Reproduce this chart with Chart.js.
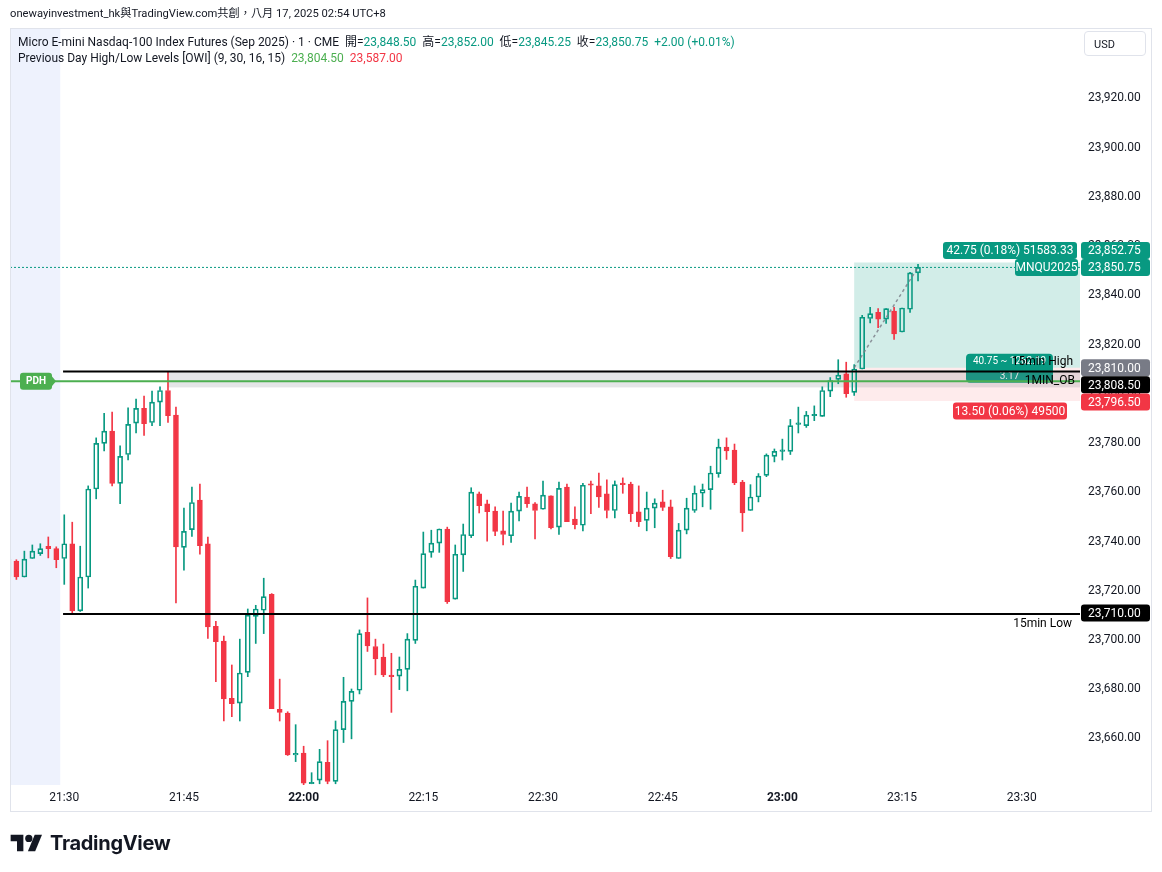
<!DOCTYPE html>
<html>
<head>
<meta charset="utf-8">
<script src="https://cdn.jsdelivr.net/npm/chart.js@4/dist/chart.umd.min.js"></script>
<style>
body{margin:0;background:#fff;width:1162px;height:872px;overflow:hidden;position:relative;font-family:Roboto,"Noto Sans CJK TC",sans-serif;color:#131722}
#c{position:absolute;left:0;top:0}
.t{position:absolute;white-space:nowrap;font-size:12px;line-height:16px}
.g{color:#089981}
#usd{position:absolute;left:1084px;top:31px;width:62px;height:25px;border:1px solid #e0e3eb;border-radius:4px;font-size:11px;line-height:25px;padding-left:9px;box-sizing:border-box}
#logo{position:absolute;left:10px;top:831px;display:flex;align-items:center;gap:6px;font-family:Inter,sans-serif;font-weight:700;font-size:20px;letter-spacing:-0.3px}
</style>
</head>
<body>
<canvas id="c" width="1162" height="872"></canvas>
<div class="t" style="left:10px;top:6px;font-size:11.2px">onewayinvestment_hk與TradingView.com共創，八月 17, 2025 02:54 UTC+8</div>
<div class="t" style="left:18px;top:34px">Micro E-mini Nasdaq-100 Index Futures (Sep 2025) · 1 · CME &nbsp;開=<span class="g">23,848.50</span> &nbsp;高=<span class="g">23,852.00</span> &nbsp;低=<span class="g">23,845.25</span> &nbsp;收=<span class="g">23,850.75</span> &nbsp;<span class="g">+2.00 (+0.01%)</span></div>
<div class="t" style="left:18px;top:50px">Previous Day High/Low Levels [OWI] (9, 30, 16, 15) &nbsp;<span style="color:#4caf50">23,804.50</span> &nbsp;<span style="color:#f23645">23,587.00</span></div>
<div id="usd">USD</div>
<div id="logo"><svg width="34" height="20" viewBox="0 0 36 22"><path d="M14 20H7V9H0V2h14z" fill="#131722"/><circle cx="20" cy="6" r="4" fill="#131722"/><path d="M27 20h-8l7.5-18h8z" fill="#131722"/></svg>TradingView</div>
<script>
const times = ["21:23","21:24","21:25","21:26","21:27","21:28","21:29","21:30","21:31","21:32","21:33","21:34","21:35","21:36","21:37","21:38","21:39","21:40","21:41","21:42","21:43","21:44","21:45","21:46","21:47","21:48","21:49","21:50","21:51","21:52","21:53","21:54","21:55","21:56","21:57","21:58","21:59",
"22:00","22:01","22:02","22:03","22:04","22:05","22:06","22:07","22:08","22:09","22:10","22:11","22:12","22:13","22:14","22:15","22:16","22:17","22:18","22:19","22:20","22:21","22:22","22:23","22:24","22:25","22:26","22:27","22:28","22:29","22:30","22:31","22:32","22:33","22:34","22:35","22:36","22:37","22:38","22:39","22:40","22:41","22:42","22:43","22:44","22:45","22:46","22:47","22:48","22:49","22:50","22:51","22:52","22:53","22:54","22:55","22:56","22:57","22:58","22:59",
"23:00","23:01","23:02","23:03","23:04","23:05","23:06","23:07","23:08","23:09","23:10","23:11","23:12","23:13","23:14","23:15","23:16","23:17"];
const opens = [23725.25,23731.5,23725,23732.5,23734.5,23737.5,23736.5,23732.5,23738.5,23711.25,23725,23760.75,23779.25,23784.25,23763,23774.75,23787.5,23793.5,23787.75,23796,23800.75,23790.75,23737,23744.25,23756.25,23738.5,23705,23699,23675.75,23673.75,23686.25,23709,23711.5,23718,23671.25,23669.75,23652.75,
23653.5,23641,23642.5,23649.75,23642,23663,23674.5,23679,23702.5,23696.75,23692.5,23684.75,23684.75,23687.5,23699.25,23720.5,23735,23738.75,23744.5,23716,23734,23741.75,23758.75,23754.75,23751.75,23743.75,23741.75,23751.75,23757.5,23754.75,23752.5,23758,23745.25,23761.5,23748.5,23746,23762.5,23762,23758.75,23752,23762.75,23762.75,23751.5,23748,23753,23755.5,23753.5,23732.5,23744,23752,23759,23760.5,23767,23777.75,23776.5,23763.5,23752,23757.5,23766.25,23774,
23776,23776,23787,23786.5,23790.5,23790.25,23800.5,23805.25,23807.5,23800,23809.5,23830,23832.5,23829.75,23833,23824.5,23833.75,23848.5];
const highs = [23733,23732,23735.5,23738,23738.5,23741.25,23737.25,23750.25,23747.25,23737.5,23762,23781.5,23791.5,23792,23778.25,23793.75,23797.25,23798.5,23800.5,23802.25,23808.5,23794,23753,23761.5,23762.75,23741.25,23707,23701,23689.25,23699.75,23712,23713.5,23724.5,23718.25,23683.5,23670.25,23665,
23656.25,23645.5,23655,23658.5,23666.5,23684.25,23679.5,23703.5,23716.5,23699.75,23697.75,23694,23692.5,23702,23723.75,23743.25,23744,23744.5,23745.25,23738,23746.5,23761.25,23759.5,23756.25,23753.5,23751.75,23755,23759.5,23761.5,23755.25,23764,23758,23763.5,23762.75,23753.5,23763,23764,23767.25,23764.5,23764,23765.25,23763.5,23762,23759.5,23756.75,23760.25,23756.25,23746.75,23757,23762,23762.75,23770,23781,23781.5,23779,23764.25,23762.5,23767,23775,23777,
23781,23789,23794,23792.25,23794.5,23802.25,23806,23813.25,23812.25,23811.25,23831.25,23834.5,23834,23834,23834.5,23834.25,23848.75,23852];
const lows = [23724.5,23724,23725,23732.5,23733.75,23732.75,23728.75,23722,23709.75,23711,23720.5,23756.75,23776.25,23762,23754.75,23772.5,23783.5,23782.5,23786.5,23786.5,23787.75,23714.5,23727.75,23741.5,23734.25,23700,23682.5,23666.5,23668.25,23666.5,23684.5,23698,23702,23671.5,23666.5,23652.5,23650,
23640.5,23641,23641,23641,23641,23657.75,23659.25,23677.5,23694.75,23685.25,23684.5,23670,23679.25,23678.75,23698,23720.5,23733,23735,23714.25,23716,23727.25,23741,23751,23739.5,23741.75,23738,23739,23747.75,23753.25,23740.5,23752.5,23744.5,23742.25,23747.5,23744.5,23743.75,23750.75,23753.25,23749,23749,23759,23747.5,23745.5,23743.75,23745,23752,23732.5,23732.5,23742.5,23751.25,23753.5,23752.5,23765.5,23772.75,23762.5,23743.5,23752,23755.5,23765.75,23771.75,
23772.5,23774.75,23783.5,23785.75,23788.5,23790.25,23798.25,23803.5,23798,23798.75,23809.5,23828.25,23826.25,23828,23821.5,23824.5,23832.5,23845.25];
const closes = [23732.25,23725,23732.25,23735.5,23736.5,23736.5,23732,23738.5,23711.25,23725,23760.75,23779.25,23784.25,23763,23774,23787,23793.5,23787.25,23796,23800.75,23790.5,23737.25,23743.5,23755.25,23737.75,23704.75,23698.75,23675.5,23673.5,23686,23709.5,23712,23717,23671.5,23670,23652.75,23653.25,
23641.25,23641.5,23650,23642,23663,23674.5,23678.5,23702,23697,23691.75,23685.25,23684.5,23687.5,23699.75,23721.25,23734.5,23738.75,23744.5,23715,23734.25,23742.25,23759.5,23754,23751.5,23743.5,23742.25,23751.75,23757.75,23754.75,23752,23758.25,23745,23761,23747.5,23746.25,23762.25,23762.25,23757.5,23752,23762.5,23762.5,23750.75,23747.5,23753,23755,23753.25,23733.25,23744,23753,23759,23760.5,23767.25,23777.75,23776.25,23763.25,23751,23757.5,23766,23774.5,23776,
23776.25,23786.5,23787.25,23790.75,23790.75,23800.75,23804.75,23807,23799.5,23809.5,23830.5,23832,23829.75,23834,23823.75,23834.25,23848.5,23850.75];

const xTickLabels = ["21:30","21:45","22:00","22:15","22:30","22:45","23:00","23:15","23:30"];
const priceTicks = [23660,23680,23700,23720,23740,23760,23780,23800,23820,23840,23860,23880,23900,23920];

// levels drawn on the chart
const pdhLevel = 23804.5;
const high15 = 23808.5;
const low15 = 23710;
const obLow = 23802;
const lastPrice = 23850.75;
const entryPrice = 23810, targetPrice = 23852.75, stopPrice = 23796.5;
const entryTime = "23:09", obTime = "21:43", lastTime = "23:17";

const toMin = s => { const [h,m] = s.split(":").map(Number); return h*60+m-(21*60+30); };
const xMin = -6.8, xMax = 127.3, yMin = 23640.5, yMax = 23948;
const TEAL = '#089981', RED = '#f23645', GREEN = '#4caf50';
const FONT = 'Roboto, "Noto Sans", sans-serif';

const tv = times.map(toMin);
const up = closes.map((c,i)=>c>=opens[i]);
const col = up.map(u=>u?TEAL:RED);
const fmt = v => v.toLocaleString('en-US',{minimumFractionDigits:2,maximumFractionDigits:2});
const flat = (y,x0,x1)=>[{x:x0,y},{x:x1,y}];

const overlay = {
  id:'overlay',
  beforeDatasetsDraw(chart){
    const {ctx, chartArea:a, scales:{x,y}} = chart;
    const rect=(t0,t1,p0,p1,c)=>{const X0=x.getPixelForValue(t0),X1=x.getPixelForValue(t1),Y0=y.getPixelForValue(p1),Y1=y.getPixelForValue(p0);ctx.fillStyle=c;ctx.fillRect(X0,Y0,X1-X0,Y1-Y0);};
    ctx.save();
    ctx.beginPath();ctx.rect(a.left,a.top,a.width,a.height);ctx.clip();
    rect(xMin,-0.5,yMin,yMax,'#eef2fd');
    rect(toMin(entryTime),xMax,entryPrice,targetPrice,'rgba(8,153,129,0.18)');
    rect(toMin(entryTime),xMax,stopPrice,entryPrice,'rgba(242,54,69,0.1)');
    // middle label of the position tool
    const ye=y.getPixelForValue(entryPrice);
    ctx.fillStyle=TEAL;ctx.beginPath();ctx.roundRect(966,ye-14,87,29,4);ctx.fill();
    ctx.fillStyle='#fff';ctx.font='10px '+FONT;ctx.textAlign='center';ctx.textBaseline='middle';
    ctx.fillText('40.75 ~ 1262.19',1009.5,ye-6);ctx.fillText('3.17',1009.5,ye+9);
    rect(toMin(obTime),xMax,obLow,high15,'rgba(120,123,134,0.2)');
    ctx.restore();
  },
  afterDraw(chart){
    const {ctx, chartArea:a, scales:{y}} = chart;
    ctx.save();
    ctx.strokeStyle='#e0e3eb';ctx.lineWidth=1;ctx.strokeRect(10.5,28.5,1141,783);
    const box=(x0,yc,w,c,txt,align)=>{ctx.fillStyle=c;ctx.beginPath();ctx.roundRect(x0,yc-8.5,w,17,3);ctx.fill();
      ctx.fillStyle='#fff';ctx.font='12px '+FONT;ctx.textBaseline='middle';
      if(align==='left'){ctx.textAlign='left';ctx.fillText(txt,x0+7,yc+1);}else{ctx.textAlign='center';ctx.fillText(txt,x0+w/2,yc+1);}};
    const R=a.right;
    // price tags on the axis
    const yLast=y.getPixelForValue(lastPrice), yEnt=y.getPixelForValue(entryPrice);
    box(R+1,yLast-17,69,TEAL,fmt(targetPrice),'left');
    box(R+1,yLast,69,TEAL,fmt(lastPrice),'left');
    box(R+1,yEnt,69,'#787b86',fmt(entryPrice),'left');
    box(R+1,yEnt+17,69,'#000',fmt(high15),'left');
    box(R+1,y.getPixelForValue(stopPrice)+1,69,RED,fmt(stopPrice),'left');
    box(R+1,y.getPixelForValue(low15)-1,69,'#000',fmt(low15),'left');
    // tool labels
    box(R-65,yLast,63,TEAL,'MNQU2025','center');
    box(R-137,yLast-17,134,TEAL,'42.75 (0.18%) 51583.33','center');
    box(R-127,y.getPixelForValue(stopPrice)+10,114,RED,'13.50 (0.06%) 49500','center');
    // level texts
    ctx.fillStyle='#000';ctx.font='12px '+FONT;ctx.textAlign='right';ctx.textBaseline='middle';
    ctx.fillText('15min High',R-7,y.getPixelForValue(high15)-9);
    ctx.fillText('1MIN_OB',R-5,y.getPixelForValue(pdhLevel));
    ctx.fillText('15min Low',R-8,y.getPixelForValue(low15)+10);
    // PDH flag
    const yp=y.getPixelForValue(pdhLevel);
    ctx.fillStyle=GREEN;ctx.beginPath();ctx.roundRect(20,yp-8.5,32,17,3);ctx.fill();
    ctx.beginPath();ctx.moveTo(51,yp-6);ctx.lineTo(56,yp);ctx.lineTo(51,yp+6);ctx.fill();
    ctx.fillStyle='#fff';ctx.font='bold 10px '+FONT;ctx.textAlign='center';ctx.fillText('PDH',36,yp+0.5);
    ctx.restore();
  }
};

new Chart(document.getElementById('c'),{
  type:'bar',
  data:{datasets:[
    {data:tv.map((x,i)=>({x,y:[Math.max(opens[i],closes[i]),highs[i]]})),backgroundColor:col,barThickness:1,grouped:false,order:6},
    {data:tv.map((x,i)=>({x,y:[lows[i],Math.min(opens[i],closes[i])]})),backgroundColor:col,barThickness:1,grouped:false,order:6},
    {data:tv.map((x,i)=>({x,y:[Math.min(opens[i],closes[i]),Math.max(opens[i],closes[i])]})),backgroundColor:up.map(u=>u?'rgba(0,0,0,0)':RED),borderColor:col,borderWidth:1,borderSkipped:false,barThickness:5,minBarLength:1.5,grouped:false,order:5},
    {type:'line',data:flat(pdhLevel,xMin,xMax),borderColor:GREEN,borderWidth:2,pointRadius:0,order:1},
    {type:'line',data:flat(high15,-0.15,xMax),borderColor:'#000',borderWidth:2,pointRadius:0,order:0},
    {type:'line',data:flat(low15,-0.15,xMax),borderColor:'#000',borderWidth:2,pointRadius:0,order:0},
    {type:'line',data:flat(lastPrice,xMin,xMax),borderColor:TEAL,borderWidth:1,borderDash:[2,2],pointRadius:0,order:2},
    {type:'line',data:[{x:toMin(entryTime),y:entryPrice},{x:toMin(lastTime),y:lastPrice}],borderColor:'rgba(120,123,134,0.8)',borderWidth:1.5,borderDash:[3,3],pointRadius:0,order:2}
  ]},
  options:{
    responsive:false,animation:false,
    layout:{padding:{left:10,top:28,right:10,bottom:60}},
    plugins:{legend:{display:false},tooltip:{enabled:false}},
    scales:{
      x:{type:'linear',min:xMin,max:xMax,offset:false,grid:{display:false,drawTicks:false},border:{display:false},
        afterBuildTicks:s=>{s.ticks=xTickLabels.map(l=>({value:toMin(l)}));},
        afterFit:s=>{s.height=27;},
        ticks:{autoSkip:false,maxRotation:0,padding:6,color:'#131722',
          callback:(v,i)=>xTickLabels[i],
          font:c=>({family:FONT,size:12,weight:(c.tick&&c.tick.value%60===30)?'bold':'normal'})}},
      y:{type:'linear',position:'right',min:yMin,max:yMax,beginAtZero:false,grid:{display:false,drawTicks:false},border:{display:false},
        afterBuildTicks:s=>{s.ticks=priceTicks.map(v=>({value:v}));},
        afterFit:s=>{s.width=72;},
        ticks:{padding:8,labelOffset:1.5,color:'#131722',font:{family:FONT,size:12},callback:v=>fmt(v)}}
    }
  },
  plugins:[overlay]
});
</script>
</body>
</html>
